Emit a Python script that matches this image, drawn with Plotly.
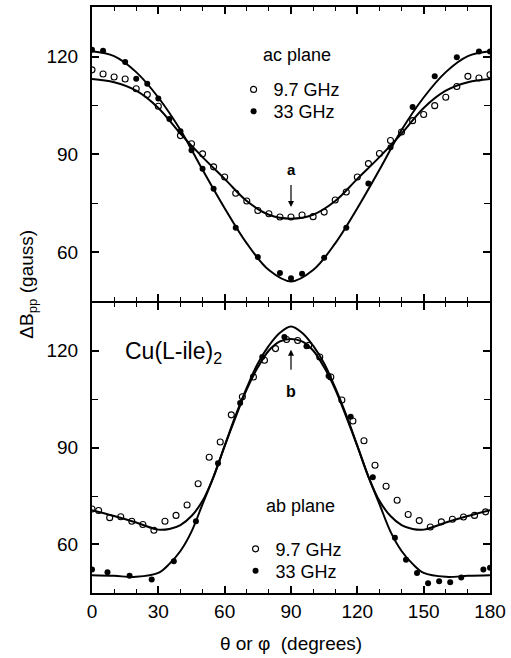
import plotly.graph_objects as go

# ---------------- data: ac plane (top panel) ----------------
ac_97_x = [0, 5, 10, 15, 20, 25, 30, 40, 45, 50, 55, 60, 65, 70, 75, 80, 85, 90,
           95, 100, 105, 110, 115, 120, 125, 130, 135, 140, 145, 150, 155, 160,
           165, 170, 175, 180]
ac_97_y = [116.0, 114.7, 113.8, 113.2, 110.2, 108.4, 104.8, 95.8, 93.3, 90.2, 86.2,
           83.1, 78.1, 75.7, 72.8, 71.8, 70.8, 70.8, 71.4, 70.9, 72.3, 76.0, 78.5,
           83.1, 87.2, 90.3, 94.3, 96.9, 100.4, 102.3, 105.0, 107.6, 110.9, 114.0,
           113.5, 114.5]
ac_33_x = [0, 5, 15, 20, 25, 30, 35, 40, 45, 50, 55, 65, 75, 85, 90, 95, 105, 115,
           125, 135, 145, 155, 165, 175, 180]
ac_33_y = [122.2, 121.9, 118.4, 113.3, 111.7, 107.2, 100.9, 97.1, 91.3, 85.6, 79.5,
           67.5, 58.5, 53.6, 52.0, 53.4, 58.3, 67.5, 81.1, 92.2, 104.6, 114.0, 119.9,
           121.6, 121.6]

# fitted curves
ac_fit_x = [0, 10, 20, 30, 40, 50, 60, 70, 80, 90, 100, 110, 120, 130, 140, 150,
            160, 170, 180]
ac_fit_97 = [113.2, 112.2, 109.6, 104.3, 96.4, 89.2, 82.5, 75.7, 71.5, 70.3, 71.5,
             75.7, 82.5, 89.2, 96.4, 104.3, 109.6, 112.2, 113.2]
ac_fit_33 = [121.7, 120.2, 115.3, 107.5, 97.5, 85.3, 73.5, 62.7, 54.5, 51.0, 54.5,
             62.7, 73.5, 85.3, 97.5, 107.5, 115.3, 120.2, 121.7]

# ---------------- data: ab plane (bottom panel) ----------------
ab_97_x = [0, 3, 8, 13, 18, 23, 28, 33, 38, 43, 48, 53, 58, 63, 68, 73, 78, 83, 88,
           93, 98, 103, 108, 113, 118, 123, 128, 133, 138, 143, 148, 153, 158, 163,
           168, 173, 178]
ab_97_y = [71.0, 70.5, 68.3, 68.6, 67.2, 66.2, 64.4, 67.2, 69.0, 72.2, 78.8, 87.0,
           91.7, 100.1, 105.7, 111.8, 117.0, 120.6, 123.4, 123.1, 121.6, 118.0, 111.8,
           104.7, 98.2, 92.1, 84.5, 78.0, 73.7, 69.3, 67.4, 65.4, 67.0, 67.8, 68.5,
           69.0, 70.1]
ab_33_x = [0, 7, 17, 27, 37, 47, 57, 67, 77, 87, 97, 107, 117, 127, 137, 142, 147,
           152, 157, 162, 167, 177, 180]
ab_33_y = [52.3, 51.4, 50.3, 49.2, 54.8, 67.2, 85.1, 103.8, 118.0, 124.2, 121.3,
           112.1, 99.5, 80.8, 62.1, 55.3, 51.2, 48.0, 48.6, 48.3, 49.8, 52.3, 52.8]

ab_fit_x = [0, 10, 20, 30, 35, 40, 45, 50, 55, 60, 65, 70, 75, 80, 85, 90, 95, 100,
            105, 110, 115, 120, 125, 130, 135, 140, 145, 150, 160, 170, 180]
ab_fit_97 = [70.6, 68.8, 66.8, 64.6, 64.8, 66.0, 68.8, 73.5, 81.0, 90.5, 99.5, 108.0,
             114.8, 120.0, 122.8, 123.6, 122.8, 120.0, 114.8, 108.0, 99.5, 90.5, 81.0,
             73.5, 68.8, 66.0, 64.8, 64.6, 66.8, 68.8, 70.6]
ab_fit_33 = [50.5, 50.3, 50.0, 51.2, 54.0, 58.0, 64.0, 72.5, 81.0, 90.5, 100.0, 108.5,
             116.0, 121.5, 125.5, 127.4, 125.5, 121.5, 116.0, 108.5, 100.0, 90.5, 81.0,
             72.5, 64.0, 58.0, 54.0, 51.2, 50.0, 50.3, 50.5]

FONT = "Liberation Sans, Arial, Helvetica, sans-serif"
BLACK = "#000000"

PLOT_L, PLOT_R, PLOT_T, PLOT_B = 92, 494, 5, 593
PW, PH = PLOT_R - PLOT_L, PLOT_B - PLOT_T
LW = 2


def px2x(px):
    return (px - PLOT_L) / PW


def py2y(py):
    return (PLOT_B - py) / PH


fig = go.Figure()
line_style = dict(color=BLACK, width=2, shape="spline", smoothing=1.0)
open_m = dict(symbol="circle-open", size=6, color=BLACK, line=dict(width=1.1))
fill_m = dict(symbol="circle", size=6, color=BLACK)

# top panel
fig.add_trace(go.Scatter(x=ac_fit_x, y=ac_fit_97, mode="lines", line=line_style,
                         xaxis="x2", yaxis="y2", showlegend=False))
fig.add_trace(go.Scatter(x=ac_fit_x, y=ac_fit_33, mode="lines", line=line_style,
                         xaxis="x2", yaxis="y2", showlegend=False))
fig.add_trace(go.Scatter(x=ac_97_x, y=ac_97_y, mode="markers", name="9.7 GHz", marker=open_m,
                         xaxis="x2", yaxis="y2", legend="legend"))
fig.add_trace(go.Scatter(x=ac_33_x, y=ac_33_y, mode="markers", name="33 GHz", marker=fill_m,
                         xaxis="x2", yaxis="y2", legend="legend2"))

# bottom panel
fig.add_trace(go.Scatter(x=ab_fit_x, y=ab_fit_97, mode="lines", line=line_style,
                         xaxis="x", yaxis="y", showlegend=False))
fig.add_trace(go.Scatter(x=ab_fit_x, y=ab_fit_33, mode="lines", line=line_style,
                         xaxis="x", yaxis="y", showlegend=False))
fig.add_trace(go.Scatter(x=ab_97_x, y=ab_97_y, mode="markers", name="9.7 GHz", marker=open_m,
                         xaxis="x", yaxis="y", legend="legend3"))
fig.add_trace(go.Scatter(x=ab_33_x, y=ab_33_y, mode="markers", name="33 GHz", marker=fill_m,
                         xaxis="x", yaxis="y", legend="legend4"))

split = py2y(300)
xcommon = dict(range=[0, 180], tick0=0, dtick=30, ticks="inside", ticklen=7, tickwidth=1.5,
               tickcolor=BLACK, showline=True, linecolor=BLACK, linewidth=LW, mirror="allticks",
               showgrid=False, zeroline=False,
               minor=dict(dtick=10, ticks="inside", ticklen=4, tickwidth=1.2, tickcolor=BLACK, showgrid=False),
               tickfont=dict(family=FONT, size=19, color=BLACK))
ycommon = dict(tick0=0, dtick=30, ticks="inside", ticklen=7, tickwidth=1.5,
               tickcolor=BLACK, showline=True, linecolor=BLACK, linewidth=LW, mirror="allticks",
               showgrid=False, zeroline=False,
               minor=dict(dtick=15, ticks="inside", ticklen=6, tickwidth=1.2, tickcolor=BLACK, showgrid=False),
               tickfont=dict(family=FONT, size=19, color=BLACK), ticklabelstandoff=8)


def leg(xpx, ypx):
    return dict(x=px2x(xpx), y=py2y(ypx), xanchor="left", yanchor="middle", bgcolor="rgba(0,0,0,0)",
                font=dict(family=FONT, size=18, color=BLACK), tracegroupgap=0, itemwidth=30,
                borderwidth=0)


fig.update_layout(
    width=511, height=658,
    margin=dict(l=PLOT_L, r=511 - PLOT_R, t=PLOT_T, b=658 - PLOT_B),
    paper_bgcolor="white", plot_bgcolor="white",
    font=dict(family=FONT, color=BLACK),
    xaxis=dict(**xcommon, anchor="y", ticklabelstandoff=0,
               title=dict(text="θ or φ  (degrees)", font=dict(family=FONT, size=19, color=BLACK), standoff=16)),
    xaxis2=dict(**xcommon, anchor="y2", matches="x", showticklabels=False),
    yaxis=dict(**ycommon, range=[45, 134.7], domain=[0, split - LW / PH], anchor="x"),
    yaxis2=dict(**ycommon, range=[45, 135.3], domain=[split, 1], anchor="x2"),
    legend=leg(235, 88),
    legend2=leg(235, 110),
    legend3=leg(237, 549),
    legend4=leg(237, 571),
)

fig.add_annotation(text="ac plane", xref="paper", yref="paper", x=px2x(299), y=py2y(53),
                   showarrow=False, font=dict(family=FONT, size=18, color=BLACK), xanchor="center", yanchor="middle")
fig.add_annotation(text="ab plane", xref="paper", yref="paper", x=px2x(303), y=py2y(506),
                   showarrow=False, font=dict(family=FONT, size=18, color=BLACK), xanchor="center", yanchor="middle")
fig.add_annotation(text="Cu(L-ile)<sub>2</sub>", xref="paper", yref="paper", x=px2x(123),
                   y=py2y(352), showarrow=False, xanchor="left", yanchor="middle",
                   font=dict(family=FONT, size=23, color=BLACK))
fig.add_annotation(text="<b>a</b>", xref="x2", yref="y2", x=90, y=73.9, ax=0, ay=-37,
                   showarrow=True, arrowhead=2, arrowsize=1, arrowwidth=1.2, arrowcolor=BLACK,
                   startstandoff=5, font=dict(family=FONT, size=15, color=BLACK))
fig.add_annotation(text="<b>b</b>", xref="x", yref="y", x=90, y=120.2, ax=0, ay=42,
                   showarrow=True, arrowhead=2, arrowsize=1, arrowwidth=1.2, arrowcolor=BLACK,
                   startstandoff=12, font=dict(family=FONT, size=16, color=BLACK))
fig.add_annotation(text="ΔB<sub>pp</sub> (gauss)", xref="paper", yref="paper", x=px2x(27),
                   y=py2y(283), textangle=-90, showarrow=False, xanchor="center", yanchor="middle",
                   font=dict(family=FONT, size=19, color=BLACK))

fig.write_html("out.html")
